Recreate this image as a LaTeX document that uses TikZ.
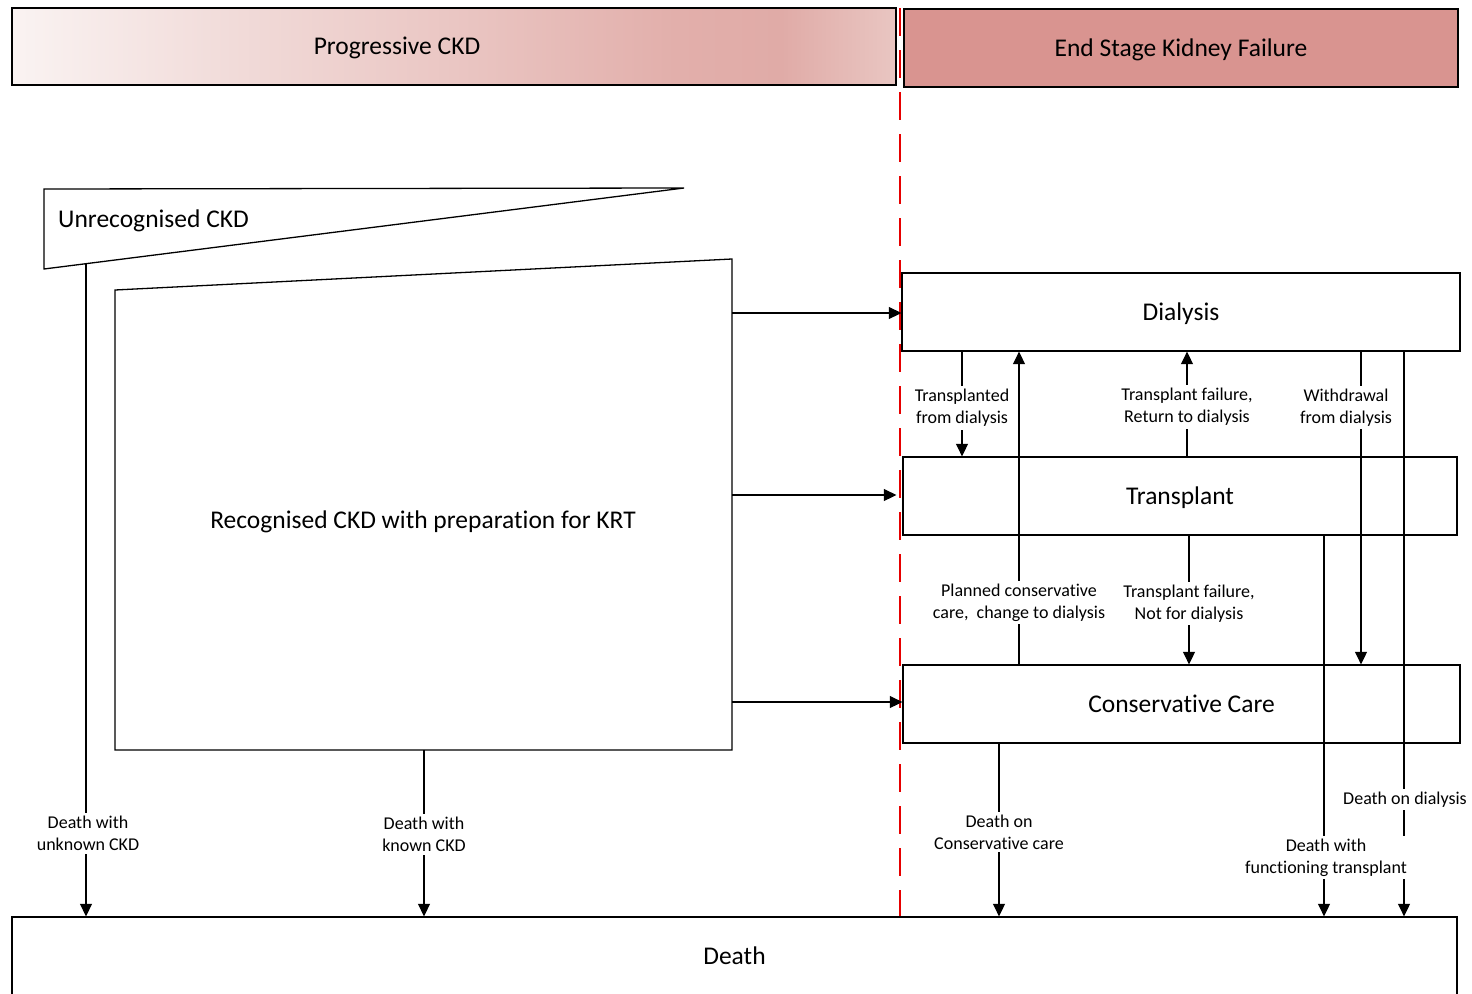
\documentclass[tikz,border=0pt]{standalone}
\usepackage{fontspec}
\setmainfont[Ligatures=NoCommon]{Carlito}
\usetikzlibrary{arrows.meta,calc}
\definecolor{c0}{RGB}{250,243,242}
\definecolor{c1}{RGB}{241,219,217}
\definecolor{c2}{RGB}{234,198,195}
\definecolor{c3}{RGB}{226,175,171}
\definecolor{c4}{RGB}{224,171,167}
\definecolor{c5}{RGB}{233,198,194}
\definecolor{eskf}{RGB}{217,148,144}
\definecolor{redline}{RGB}{230,0,0}
\pgfdeclarehorizontalshading{ckdshade}{100bp}{color(0bp)=(c0); color(25bp)=(c0); color(37.5bp)=(c1); color(50bp)=(c2); color(62.5bp)=(c3); color(68.5bp)=(c4); color(75bp)=(c5); color(100bp)=(c5)}
\begin{document}
\begin{tikzpicture}[x=1pt,y=-1pt,
  bigtext/.style={font=\fontsize{25.5}{30}\selectfont, text=black, text height=22pt, text depth=6pt},
  box/.style={draw, line width=1.3pt, bigtext, inner sep=0pt},
  shapeline/.style={draw, line width=1.3pt, line join=miter},
  arr/.style={line width=1.2pt, -{Triangle[length=12.5pt,width=12pt]}},
  lab/.style={fill=white, align=center, inner sep=3pt, yshift=-2pt, font=\fontsize{18}{22}\selectfont}
]
\useasboundingbox (0,0) rectangle (1472,993);

% red dashed separator
\coordinate (redtop) at (900,8);
\coordinate (redbot) at (900,917);
\draw[redline, line width=1.8pt, dash pattern=on 28pt off 14pt] (redtop) -- (redbot);

% header boxes
\node[box, shading=ckdshade, minimum width=884, minimum height=77] (prog) at (454,46.5) {};
\node[bigtext, inner sep=0pt] (progtext) at (397,46.5) {Progressive CKD};
\node[box, fill=eskf, minimum width=554, minimum height=78] (esk) at (1181,48) {End Stage Kidney Failure};

% unrecognised CKD
\draw[shapeline] (44,189) -- (684,188) -- (44,269) -- cycle;
\node[bigtext, anchor=west, inner sep=0pt] (unrec) at (58,219) {Unrecognised CKD};

% recognised CKD
\draw[shapeline] (115,290) -- (732,259) -- (732,750) -- (115,750) -- cycle;
\node[bigtext, inner sep=0pt] (rec) at (423,520) {Recognised CKD with preparation for KRT};

% ESKF boxes
\node[box, minimum width=558, minimum height=78] (dial) at (1181,312) {Dialysis};
\node[box, minimum width=554, minimum height=78] (trans) at (1180,496) {Transplant};
\node[box, minimum width=557, minimum height=78] (cons) at (1181.5,704) {Conservative Care};
\node[box, minimum width=1445, minimum height=78] (death) at (734.5,956) {Death};

% helper coordinates
\coordinate (u1) at (86,263.7);
\coordinate (k1) at (424,750);
\coordinate (r1) at (732,313);
\coordinate (r2) at (732,495);
\coordinate (r3) at (732,702);
\coordinate (xa) at (962,0);
\coordinate (xb) at (1019,0);
\coordinate (xc) at (1187,0);
\coordinate (xd) at (1189,0);
\coordinate (xe) at (1361,0);
\coordinate (xf) at (1324,0);
\coordinate (xg) at (1404,0);
\coordinate (xh) at (999,0);

% arrows from recognised CKD
\draw[arr] (r1) -- (r1 -| dial.west);
\draw[arr, shorten >=6pt] (r2) -- (r2 -| trans.west);
\draw[arr] (r3) -- (r3 -| cons.west);

% deaths from CKD
\draw[arr] (u1) -- node[lab, pos=0.87, xshift=2pt] {Death with\\unknown CKD} (u1 |- death.north);
\draw[arr] (k1) -- node[lab, pos=0.497] {Death with\\known CKD} (k1 |- death.north);

% transitions between modalities
\draw[arr] (dial.south -| xa) -- node[lab, pos=0.52] {Transplanted\\from dialysis} (trans.north -| xa);
\draw[arr] (cons.north -| xb) -- node[lab, pos=0.204] {Planned conservative\\care,\ \ change to dialysis} (dial.south -| xb);
\draw[arr] (trans.north -| xc) -- node[lab, pos=0.49] {Transplant failure,\\Return to dialysis} (dial.south -| xc);
\draw[arr] (trans.south -| xd) -- node[lab, pos=0.51] {Transplant failure,\\Not for dialysis} (cons.north -| xd);
\draw[arr] (dial.south -| xe) -- node[lab, pos=0.172, xshift=-15pt] {Withdrawal\\from dialysis} (cons.north -| xe);

% deaths in ESKF
\draw[arr] (dial.south -| xg) -- node[lab, pos=0.79, xshift=1pt] {Death on dialysis} (death.north -| xg);
\draw[arr] (trans.south -| xf) -- node[lab, pos=0.84, xshift=2pt] {Death with\\functioning transplant} (death.north -| xf);
\draw[arr] (cons.south -| xh) -- node[lab, pos=0.5] {Death on\\Conservative care} (death.north -| xh);
\end{tikzpicture}
\end{document}
